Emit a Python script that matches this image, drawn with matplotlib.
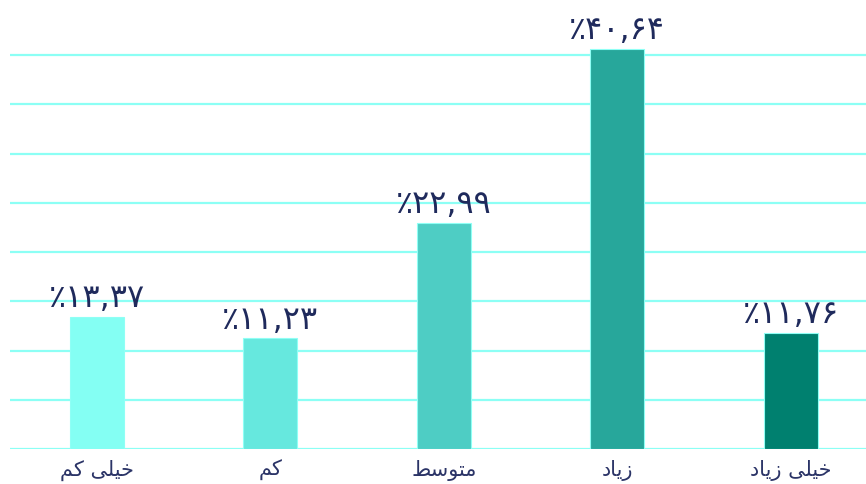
import matplotlib
matplotlib.use("Agg")
import matplotlib.pyplot as plt

categories = ["خیلی کم", "کم", "متوسط", "زیاد", "خیلی زیاد"]
values = [13.37, 11.23, 22.99, 40.64, 11.76]
colors = ["#84FFF3", "#66E8DE", "#4ECDC4", "#27A79B", "#00806F"]

FORMS = {
    'خ': ('\uFEA5', '\uFEA6', '\uFEA7', '\uFEA8'),
    'ی': ('\uFBFC', '\uFBFD', '\uFBFE', '\uFBFF'),
    'ل': ('\uFEDD', '\uFEDE', '\uFEDF', '\uFEE0'),
    'ک': ('\uFB8E', '\uFB8F', '\uFB90', '\uFB91'),
    'م': ('\uFEE1', '\uFEE2', '\uFEE3', '\uFEE4'),
    'ت': ('\uFE95', '\uFE96', '\uFE97', '\uFE98'),
    'و': ('\uFEED', '\uFEEE', None, None),
    'س': ('\uFEB1', '\uFEB2', '\uFEB3', '\uFEB4'),
    'ط': ('\uFEC1', '\uFEC2', '\uFEC3', '\uFEC4'),
    'ز': ('\uFEAF', '\uFEB0', None, None),
    'ا': ('\uFE8D', '\uFE8E', None, None),
    'د': ('\uFEA9', '\uFEAA', None, None),
}


def shape(s):
    out = []
    for i, c in enumerate(s):
        if c not in FORMS:
            out.append(c)
            continue
        prev = s[i - 1] if i > 0 else None
        nxt = s[i + 1] if i + 1 < len(s) else None
        jp = prev in FORMS and FORMS[prev][2] is not None
        jn = FORMS[c][2] is not None and nxt in FORMS
        f = FORMS[c]
        if jp and jn:
            out.append(f[3])
        elif jp:
            out.append(f[1])
        elif jn:
            out.append(f[2])
        else:
            out.append(f[0])
    return "".join(out[::-1])


def fa_num(v):
    s = f"{v:.2f}".replace(".", ",")
    s = s.translate(str.maketrans("0123456789", "۰۱۲۳۴۵۶۷۸۹"))
    return "\u066A" + s


plt.rcParams['font.family'] = ['DejaVu Sans']
fig = plt.figure(figsize=(8.66, 4.85), dpi=100)
ax = fig.add_axes([10 / 866, 35 / 485, 867.5 / 866, 440 / 485])
x = list(range(len(categories)))
ax.bar(x, values, width=0.31, color=colors, edgecolor="#8FFFF5", linewidth=0.8, zorder=3)
ax.set_xlim(-0.5, 4.5)
ax.set_ylim(0, 44.7)
ax.set_yticks([0, 5, 10, 15, 20, 25, 30, 35, 40])
ax.yaxis.grid(True, color="#8CFFF5", linewidth=1.6, zorder=0)
ax.set_axisbelow(True)
for sp in ax.spines.values():
    sp.set_visible(False)
ax.tick_params(axis="y", length=0, labelleft=False)
ax.tick_params(axis="x", length=0, pad=7)
ax.set_xticks(x)
ax.set_xticklabels([shape(c) for c in categories], fontsize=15, color="#2B3467")
for xi, v in zip(x, values):
    ax.text(xi, v + 0.4, fa_num(v), ha="center", va="bottom", fontsize=23, color="#1F2A5C")

fig.savefig("out.png", dpi=100)
